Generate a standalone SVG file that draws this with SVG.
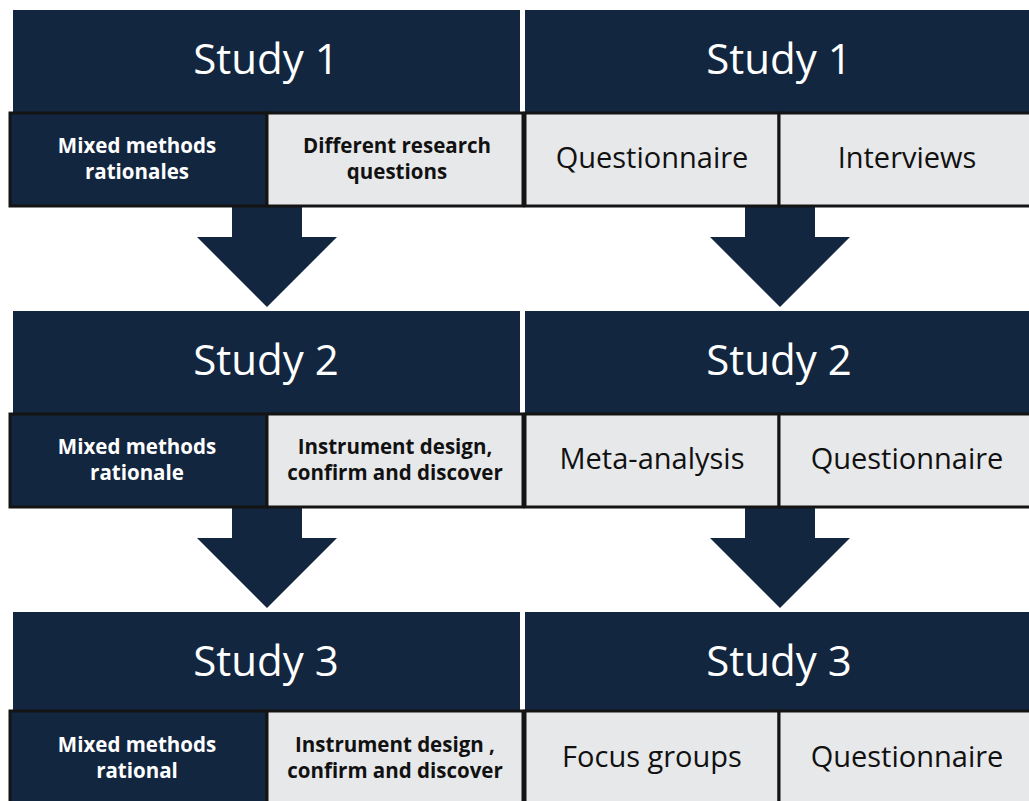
<svg xmlns="http://www.w3.org/2000/svg" width="1029" height="801" viewBox="0 0 1029 801">
  <style>
    .hdr { fill: #13263f; }
    .dark { fill: #13263f; stroke: #141414; stroke-width: 3; }
    .light { fill: #e7e8ea; stroke: #141414; stroke-width: 3; }
    .arrow { fill: #13263f; }
    .title { font-family: "Open Sans", "DejaVu Sans", sans-serif; font-size: 42px; fill: #ffffff; text-anchor: middle; }
    .bw { font-family: "Open Sans", "DejaVu Sans", sans-serif; font-weight: bold; font-size: 20.5px; fill: #ffffff; text-anchor: middle; }
    .bk { font-family: "Open Sans", "DejaVu Sans", sans-serif; font-weight: bold; font-size: 20.5px; fill: #111111; text-anchor: middle; }
    .rk { font-family: "Open Sans", "DejaVu Sans", sans-serif; font-size: 29px; fill: #111111; text-anchor: middle; }
  </style>

  <rect width="1029" height="801" fill="#ffffff"/>

  <!-- connectors: block arrows between the study rows -->
  <g id="connectors">
    <path class="arrow" d="M232,206 H302 V237 H337 L267,307 L197,237 H232 Z"/>
    <path class="arrow" d="M745,206 H815 V237 H850 L780,307 L710,237 H745 Z"/>
    <path class="arrow" d="M232,507 H302 V538 H337 L267,608 L197,538 H232 Z"/>
    <path class="arrow" d="M745,507 H815 V538 H850 L780,608 L710,538 H745 Z"/>
  </g>

  <!-- left column: rationale per study -->
  <g id="left-study1">
    <rect class="hdr" x="13" y="10" width="507" height="103"/>
    <text class="title" x="266" y="74">Study 1</text>
    <rect class="dark" x="10" y="113" width="257" height="93"/>
    <rect class="light" x="267" y="113" width="256" height="93"/>
    <text class="bw" x="137" y="153">Mixed methods</text>
    <text class="bw" x="137" y="179">rationales</text>
    <text class="bk" x="397" y="153">Different research</text>
    <text class="bk" x="397" y="179">questions</text>
  </g>

  <g id="left-study2">
    <rect class="hdr" x="13" y="311" width="507" height="103"/>
    <text class="title" x="266" y="375">Study 2</text>
    <rect class="dark" x="10" y="414" width="257" height="93"/>
    <rect class="light" x="267" y="414" width="256" height="93"/>
    <text class="bw" x="137" y="454">Mixed methods</text>
    <text class="bw" x="137" y="480">rationale</text>
    <text class="bk" x="395" y="454">Instrument design,</text>
    <text class="bk" x="395" y="480">confirm and discover</text>
  </g>

  <g id="left-study3">
    <rect class="hdr" x="13" y="612" width="507" height="99"/>
    <text class="title" x="266" y="676">Study 3</text>
    <rect class="dark" x="10" y="711" width="257" height="100"/>
    <rect class="light" x="267" y="711" width="256" height="100"/>
    <text class="bw" x="137" y="752">Mixed methods</text>
    <text class="bw" x="137" y="778">rational</text>
    <text class="bk" x="395" y="752">Instrument design ,</text>
    <text class="bk" x="395" y="778">confirm and discover</text>
  </g>

  <!-- right column: methods per study -->
  <g id="right-study1">
    <rect class="hdr" x="525" y="10" width="504" height="103"/>
    <text class="title" x="779" y="74">Study 1</text>
    <rect class="light" x="525" y="113" width="254" height="93"/>
    <rect class="light" x="779" y="113" width="260" height="93"/>
    <text class="rk" x="652" y="168">Questionnaire</text>
    <text class="rk" x="907" y="168">Interviews</text>
  </g>

  <g id="right-study2">
    <rect class="hdr" x="525" y="311" width="504" height="103"/>
    <text class="title" x="779" y="375">Study 2</text>
    <rect class="light" x="525" y="414" width="254" height="93"/>
    <rect class="light" x="779" y="414" width="260" height="93"/>
    <text class="rk" x="652" y="469">Meta-analysis</text>
    <text class="rk" x="907" y="469">Questionnaire</text>
  </g>

  <g id="right-study3">
    <rect class="hdr" x="525" y="612" width="504" height="99"/>
    <text class="title" x="779" y="676">Study 3</text>
    <rect class="light" x="525" y="711" width="254" height="100"/>
    <rect class="light" x="779" y="711" width="260" height="100"/>
    <text class="rk" x="652" y="767">Focus groups</text>
    <text class="rk" x="907" y="767">Questionnaire</text>
  </g>
</svg>
